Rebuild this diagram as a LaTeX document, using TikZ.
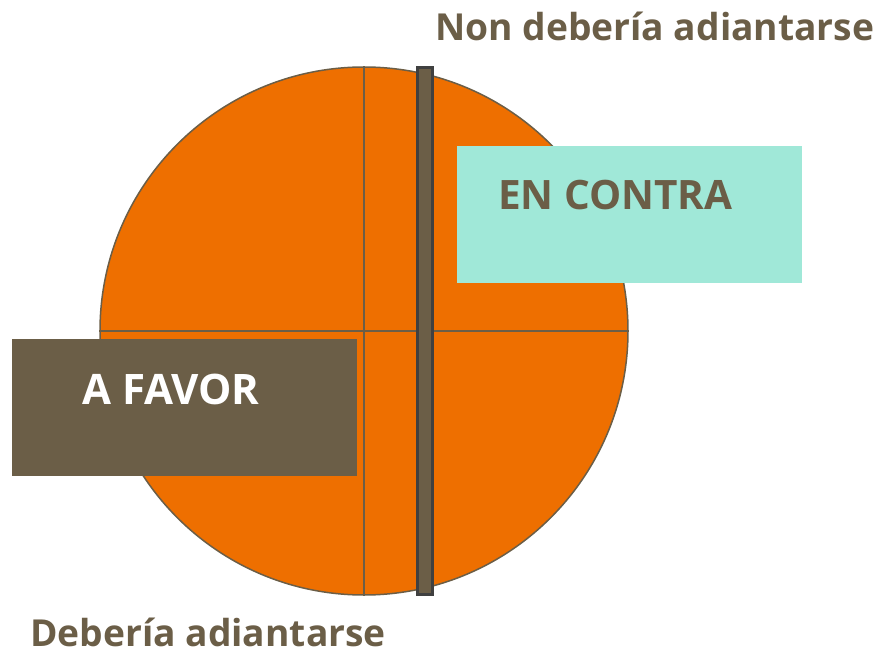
\documentclass[tikz,border=0pt]{standalone}
\usepackage{fontspec}
\setmainfont{Open Sans}
\usepackage{xcolor}
\usetikzlibrary{positioning,calc}

\definecolor{naranxa}{HTML}{EE6F00}
\definecolor{terra}{HTML}{6B5E47}
\definecolor{auga}{HTML}{A0E8D8}
\definecolor{barra}{HTML}{404040}

\begin{document}
\begin{tikzpicture}[
        x=1pt,y=-1pt,
        font=\bfseries,
        eixo/.style={draw=terra,line width=2.5pt},
        caixa/.style={rectangle,minimum width=345pt,minimum height=137pt,inner sep=0pt},
        rotulo/.style={anchor=west,inner sep=0pt,font=\fontsize{37.2}{40}\selectfont\bfseries,text=terra},
        texto/.style={anchor=west,inner sep=0pt,font=\fontsize{40.5}{44}\selectfont\bfseries}
    ]
        \useasboundingbox (0,0) rectangle (876,652);

        \node[circle,draw=terra,line width=1.5pt,fill=naranxa,minimum size=528pt,inner sep=0pt] (roda) at (364,331) {};
        \draw[eixo] (roda.north) -- (roda.south);
        \draw[eixo] (roda.west) -- (roda.east);

        \node[rectangle,draw=barra,line width=3pt,fill=terra,minimum width=15pt,minimum height=527pt,inner sep=0pt] (barra) at (425,331) {};

        \node[caixa,fill=auga] (contra) at (629.5,214.5) {};
        \node[texto,text=terra] (contratxt) at (498,195) {EN CONTRA};

        \node[caixa,fill=terra] (favor) at (184.5,407.5) {};
        \node[texto,text=white,font=\fontsize{42}{46}\selectfont\bfseries] (favortxt) at (82,389) {A FAVOR};

        \node[rotulo] (non) at (435,26) {Non debería adiantarse};
        \node[rotulo] (si) at (30,632) {Debería adiantarse};
    \end{tikzpicture}
\end{document}
